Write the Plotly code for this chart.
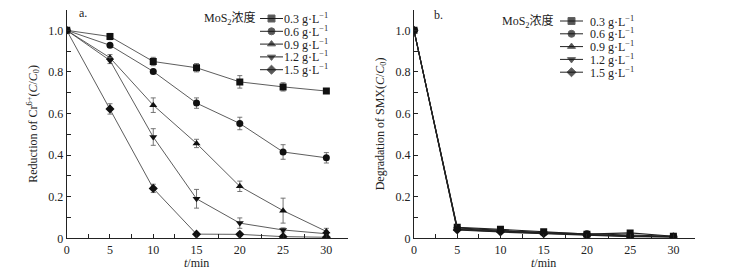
import plotly.graph_objects as go

# ---------------- data ----------------
t_min = [0, 5, 10, 15, 20, 25, 30]
conc_labels = ["0.3", "0.6", "0.9", "1.2", "1.5"]
symbols = ["square", "circle", "triangle-up", "triangle-down", "diamond"]

cr_03 = [1.0, 0.970, 0.850, 0.820, 0.752, 0.728, 0.708]
cr_06 = [1.0, 0.928, 0.802, 0.650, 0.552, 0.415, 0.387]
cr_09 = [1.0, 0.868, 0.640, 0.456, 0.250, 0.133, 0.033]
cr_12 = [1.0, 0.855, 0.487, 0.190, 0.073, 0.040, 0.022]
cr_15 = [1.0, 0.622, 0.240, 0.020, 0.019, 0.008, 0.005]

cr_03_err = [0, 0.015, 0.020, 0.020, 0.030, 0.020, 0.012]
cr_06_err = [0, 0.008, 0.010, 0.025, 0.030, 0.035, 0.025]
cr_09_err = [0, 0.015, 0.035, 0.020, 0.025, 0.060, 0.015]
cr_12_err = [0, 0.015, 0.040, 0.045, 0.025, 0.010, 0.005]
cr_15_err = [0, 0.025, 0.020, 0.005, 0.005, 0.003, 0.002]

smx_03 = [1.0, 0.053, 0.043, 0.032, 0.020, 0.026, 0.010]
smx_06 = [1.0, 0.050, 0.038, 0.028, 0.022, 0.016, 0.010]
smx_09 = [1.0, 0.046, 0.035, 0.026, 0.018, 0.012, 0.008]
smx_12 = [1.0, 0.043, 0.032, 0.024, 0.015, 0.010, 0.007]
smx_15 = [1.0, 0.040, 0.030, 0.022, 0.013, 0.008, 0.006]

cr_series = [cr_03, cr_06, cr_09, cr_12, cr_15]
cr_errs = [cr_03_err, cr_06_err, cr_09_err, cr_12_err, cr_15_err]
smx_series = [smx_03, smx_06, smx_09, smx_12, smx_15]

x_ticks = [0, 5, 10, 15, 20, 25, 30]
y_ticks = [0, 0.2, 0.4, 0.6, 0.8, 1.0]
y_ticktext = ["0", "0.2", "0.4", "0.6", "0.8", "1.0"]

# ---------------- figure ----------------
W, H = 735, 277
FONT = "Liberation Serif, Times New Roman, Noto Sans CJK SC, serif"
fig = go.Figure()

for i in range(5):
    fig.add_trace(go.Scatter(
        x=t_min, y=cr_series[i], mode="lines+markers", xaxis="x", yaxis="y",
        line=dict(color="#333333", width=0.8),
        marker=dict(symbol=symbols[i], size=7, color="#111111"),
        error_y=dict(type="data", array=cr_errs[i], color="#666666",
                     thickness=0.9, width=2.5),
        showlegend=False))

for i in range(5):
    fig.add_trace(go.Scatter(
        x=t_min, y=smx_series[i], mode="lines+markers", xaxis="x2", yaxis="y2",
        line=dict(color="#222222", width=1.1),
        marker=dict(symbol=symbols[i], size=7, color="#111111"),
        showlegend=False))

# legend samples drawn on a hidden pixel overlay
def add_legend(x0, x1, rows, text_x, title_x, title_y):
    for i in range(5):
        fig.add_trace(go.Scatter(
            x=[x0, (x0 + x1) / 2, x1], y=[rows[i]] * 3, mode="lines+markers",
            xaxis="x3", yaxis="y3",
            line=dict(color="#222222", width=1),
            marker=dict(symbol=symbols[i], size=[0, 7, 0], color="#111111"),
            showlegend=False, hoverinfo="skip", cliponaxis=False))
        fig.add_annotation(x=text_x, y=rows[i], xref="x3", yref="y3",
                           text=conc_labels[i] + " g·L<sup>−1</sup>",
                           showarrow=False, xanchor="left", yanchor="middle",
                           font=dict(size=12, family=FONT, color="#222"))
    fig.add_annotation(x=title_x, y=title_y, xref="x3", yref="y3",
                       text="MoS<sub>2</sub>浓度", showarrow=False,
                       xanchor="right", yanchor="middle",
                       font=dict(size=12, family=FONT, color="#222"))

add_legend(260, 283, [18.5, 31.3, 44.1, 56.9, 69.7], 282, 258, 18.5)
add_legend(560, 583, [21, 33.8, 46.6, 59.4, 72.2], 588, 556, 21)

def px_x(p):
    return p / W

def px_y(p):
    return 1 - p / H

axis_common = dict(showline=True, linecolor="#222", linewidth=1, ticks="inside",
                   ticklen=4, tickcolor="#222", showgrid=False, zeroline=False,
                   automargin=False,
                   tickfont=dict(size=12, family=FONT, color="#222"))

fig.update_layout(
    width=W, height=H, margin=dict(l=0, r=0, t=0, b=0),
    paper_bgcolor="white", plot_bgcolor="rgba(0,0,0,0)",
    font=dict(family=FONT, color="#222"),
    xaxis=dict(domain=[px_x(66.7), px_x(348)], range=[0, 32.5], anchor="y",
               tickvals=x_ticks, minor=dict(ticks="inside", ticklen=4, dtick=2.5,
                                            tick0=0, tickcolor="#222"),
               **axis_common),
    yaxis=dict(domain=[px_y(238.3), px_y(9.5)], range=[0, 1.1], anchor="x",
               tickvals=y_ticks, ticktext=y_ticktext,
               minor=dict(ticks="inside", ticklen=4, dtick=0.1, tick0=0,
                          tickcolor="#222"),
               title=dict(text="Reduction of Cr<sup>6+</sup>(<i>C</i>/<i>C</i><sub>0</sub>)",
                          font=dict(size=12, family=FONT, color="#222"), standoff=8),
               **axis_common),
    xaxis2=dict(domain=[px_x(414), px_x(695)], range=[0, 32.5], anchor="y2",
                tickvals=x_ticks, minor=dict(ticks="inside", ticklen=4, dtick=2.5,
                                             tick0=0, tickcolor="#222"),
                **axis_common),
    yaxis2=dict(domain=[px_y(238.3), px_y(9.5)], range=[0, 1.1], anchor="x2",
                tickvals=y_ticks, ticktext=y_ticktext,
                minor=dict(ticks="inside", ticklen=4, dtick=0.1, tick0=0,
                           tickcolor="#222"),
                title=dict(text="Degradation of SMX(<i>C</i>/<i>C</i><sub>0</sub>)",
                           font=dict(size=12, family=FONT, color="#222"), standoff=8),
                **axis_common),
    xaxis3=dict(domain=[0, 1], range=[0, W], visible=False, anchor="y3",
                fixedrange=True),
    yaxis3=dict(domain=[0, 1], range=[H, 0], visible=False, anchor="x3",
                fixedrange=True),
)

# panel labels and x titles
fig.add_annotation(x=77, y=13, xref="x3", yref="y3", text="a.", showarrow=False,
                   xanchor="left", yanchor="middle",
                   font=dict(size=12, family=FONT, color="#222"))
fig.add_annotation(x=432, y=15, xref="x3", yref="y3", text="b.", showarrow=False,
                   xanchor="left", yanchor="middle",
                   font=dict(size=12, family=FONT, color="#222"))
fig.add_annotation(x=15, y=px_y(263), xref="x", yref="paper", text="<i>t</i>/min",
                   showarrow=False, xanchor="center", yanchor="middle",
                   font=dict(size=12, family=FONT, color="#222"))
fig.add_annotation(x=15, y=px_y(263), xref="x2", yref="paper", text="<i>t</i>/min",
                   showarrow=False, xanchor="center", yanchor="middle",
                   font=dict(size=12, family=FONT, color="#222"))

fig.write_html("out.html", config={"displayModeBar": False},
               post_script="document.body.style.margin='0';document.body.style.overflow='hidden';")
